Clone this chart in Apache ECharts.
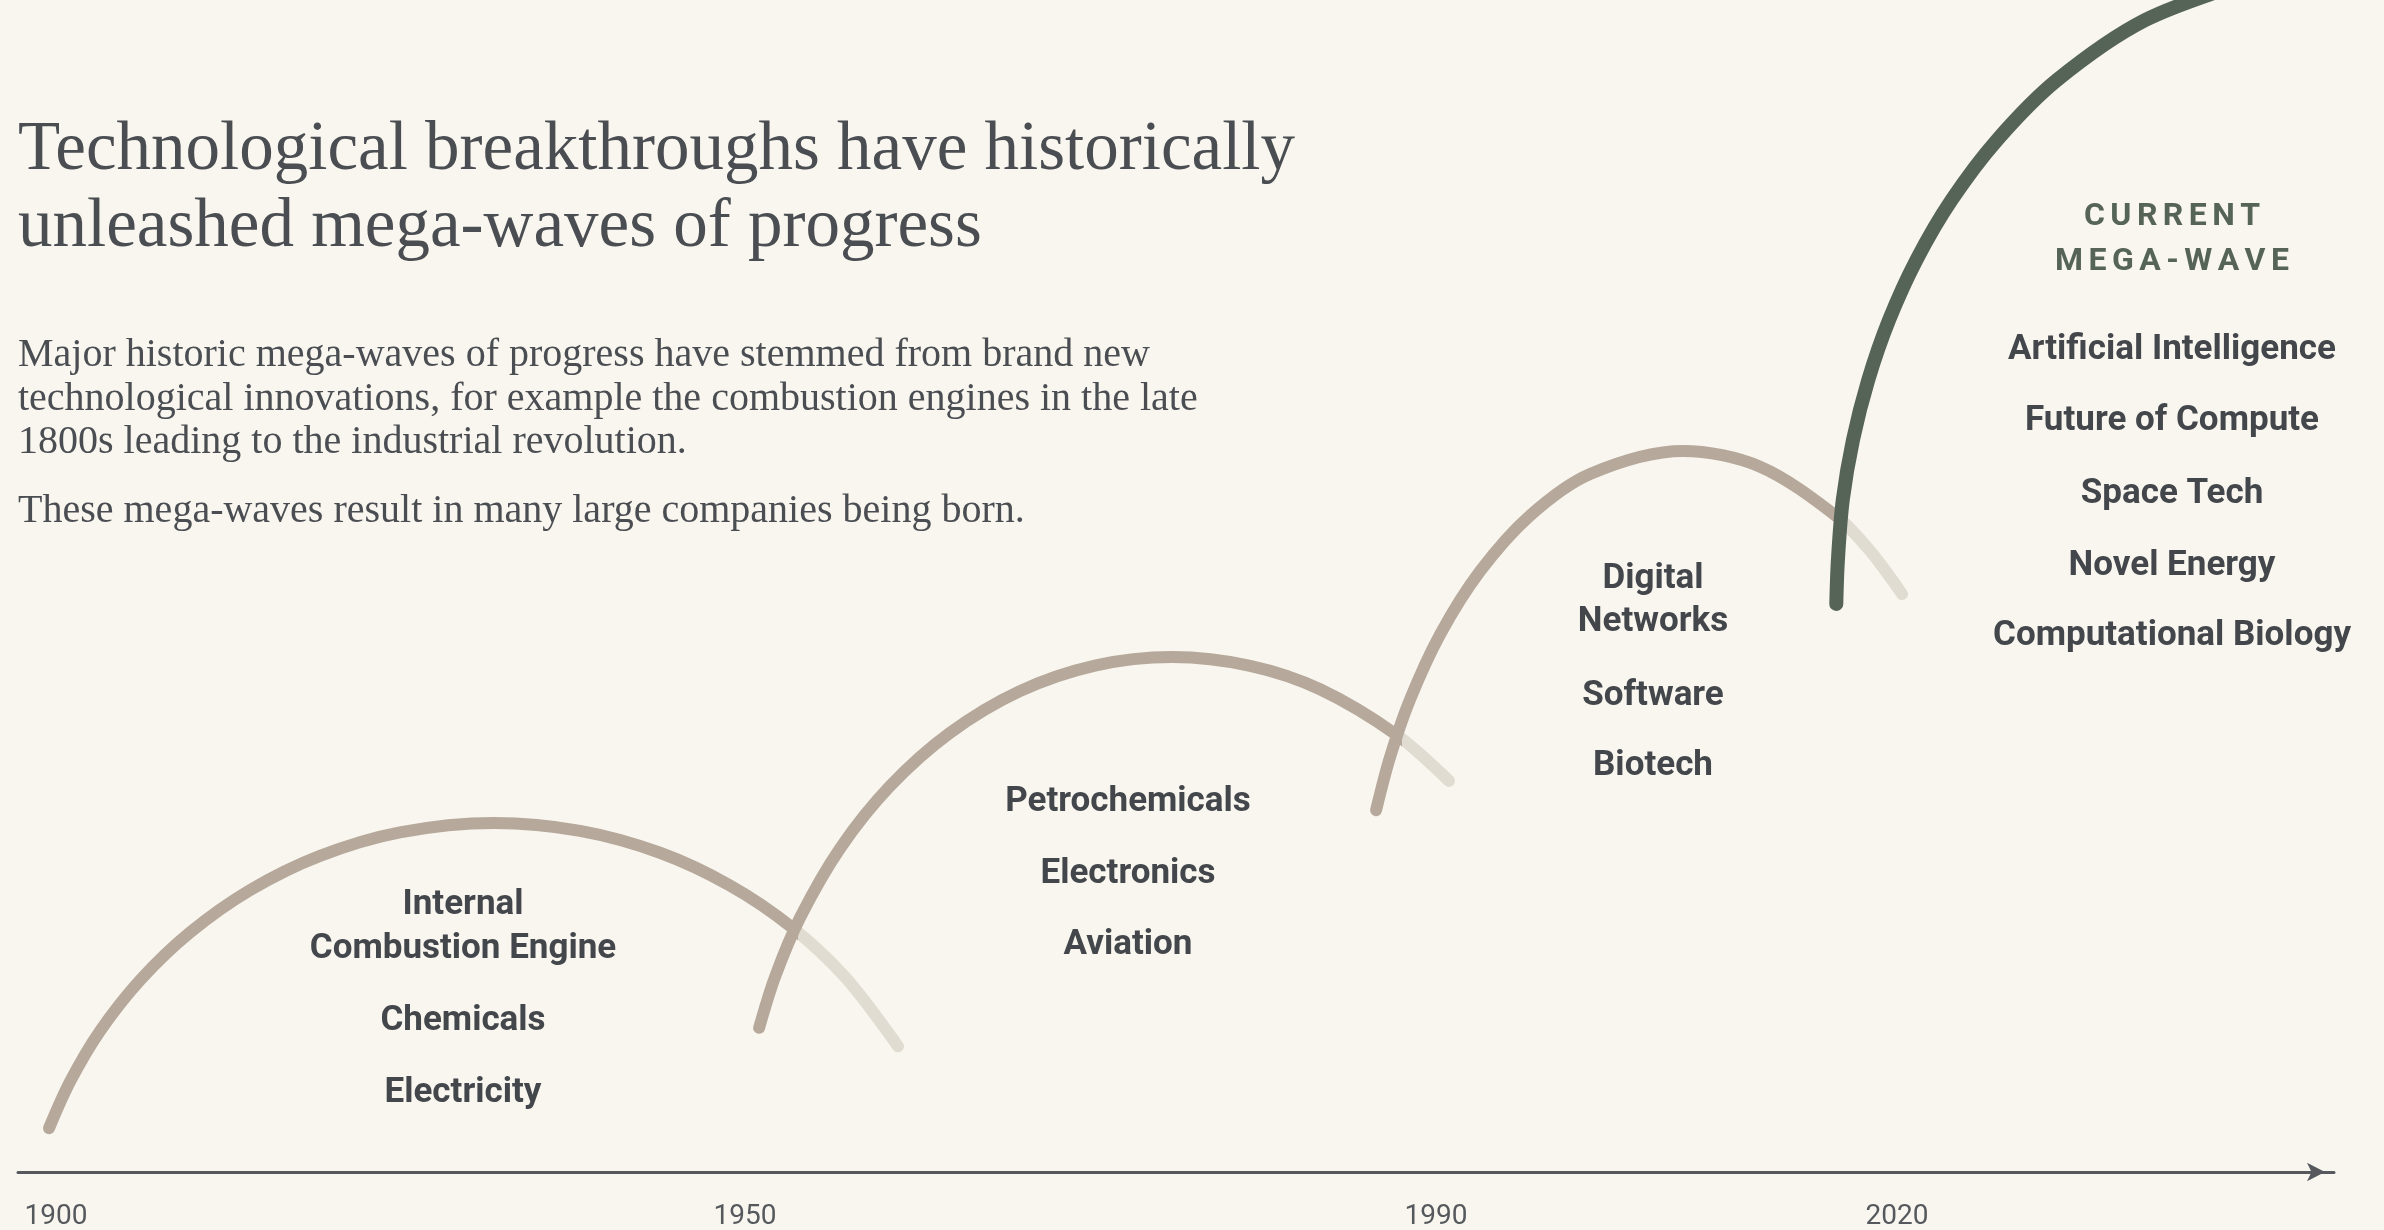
<!DOCTYPE html>
<html>
<head>
<meta charset="utf-8">
<script src="https://cdn.jsdelivr.net/npm/echarts@6/dist/echarts.min.js"></script>
<style>
  html, body { margin: 0; padding: 0; background: #F8F6EE; }
  #chart { width: 2384px; height: 1230px; }
</style>
</head>
<body>
<div id="chart"></div>
<script>
// ---------- DATA ----------
// x: position along the timeline (0-100), y: progress height (0-100)
const tickYears = ['1900', '1950', '1990', '2020'];
const tickPositions = [1.64, 31.39, 61.23, 81.13];

const wave1 = [[1.34, 3.74], [2.25, 7.72], [3.54, 12.02], [5.27, 16.36], [7.43, 20.44], [10.02, 24.05],
  [13.04, 26.97], [16.49, 28.98], [20.55, 29.78], [24.27, 29.11], [27.72, 27.24], [30.74, 24.45],
  [33.38, 20.93], [35.71, 16.64], [38.00, 10.72]];
const wave2 = [[32.00, 12.30], [32.69, 16.66], [33.77, 21.71], [35.49, 27.60], [37.65, 32.92],
  [40.24, 37.47], [43.26, 41.03], [46.50, 43.21], [49.83, 43.94], [53.20, 43.19], [56.22, 41.19],
  [59.54, 37.28], [61.79, 33.37]];
const wave3 = [[58.64, 30.87], [59.24, 35.38], [60.10, 40.29], [61.40, 45.85], [63.13, 51.26],
  [65.28, 56.00], [67.88, 59.56], [71.89, 61.52], [75.22, 60.18], [78.54, 55.92], [79.97, 52.99],
  [81.35, 49.31]];
const currentWave = [[78.51, 48.46], [78.58, 52.22], [78.79, 57.34], [79.23, 62.46], [79.89, 67.58],
  [80.79, 72.70], [81.97, 77.82], [83.49, 82.94], [85.45, 88.05], [88.04, 93.17], [91.85, 98.29],
  [96.51, 101.71]];
// where each wave is overtaken by the next one (x position)
const overtakenAt = [33.5, 59.54, 78.6];

const wave1Items = ['Internal\nCombustion Engine', 'Chemicals', 'Electricity'];
const wave2Items = ['Petrochemicals', 'Electronics', 'Aviation'];
const wave3Items = ['Digital\nNetworks', 'Software', 'Biotech'];
const currentItems = ['Artificial Intelligence', 'Future of Compute', 'Space Tech', 'Novel Energy', 'Computational Biology'];
const currentHeading = 'CURRENT\nMEGA-WAVE';

const titleText = 'Technological breakthroughs have historically\nunleashed mega-waves of progress';
const introText = 'Major historic mega-waves of progress have stemmed from brand new\ntechnological innovations, for example the combustion engines in the late\n1800s leading to the industrial revolution.';
const introText2 = 'These mega-waves result in many large companies being born.';

// ---------- STYLE / LAYOUT ----------
const C = {
  bg: '#F8F6EE', tan: '#B6A89B', light: '#E1DCD1', green: '#566458',
  text: '#43474C', body: '#4A4D52', axis: '#55595D'
};
const labelFont = { fontFamily: 'Roboto', fontWeight: 'bold', fontSize: 35, fill: C.text };

function spaced(s) { return s.split('\n').map(l => l.split('').join('\u2006')).join('\n'); }

function itemTexts(items, cx, ys, lh) {
  return items.map((t, i) => ({
    type: 'text', x: cx, y: ys[i], silent: true,
    style: Object.assign({ text: t, align: 'center', verticalAlign: 'middle', lineHeight: lh }, labelFont)
  }));
}

const graphics = [
  { type: 'text', x: 18, y: 189, silent: true,
    style: { text: titleText, fontFamily: 'Liberation Serif', fontSize: 69, lineHeight: 77, fill: C.body, verticalAlign: 'middle' } },
  { type: 'text', x: 18, y: 399, silent: true,
    style: { text: introText, fontFamily: 'Liberation Serif', fontSize: 40, lineHeight: 43.5, fill: C.body, verticalAlign: 'middle' } },
  { type: 'text', x: 18, y: 511.5, silent: true,
    style: { text: introText2, fontFamily: 'Liberation Serif', fontSize: 40, lineHeight: 43.5, fill: C.body, verticalAlign: 'middle' } },
  { type: 'text', x: 2172, y: 239, silent: true,
    style: { text: spaced(currentHeading), fontFamily: 'Roboto', fontWeight: 'bold', fontSize: 32, lineHeight: 45, fill: C.green, align: 'center', verticalAlign: 'middle' } }
].concat(
  itemTexts(wave1Items, 463, [927, 1021, 1093], 44),
  itemTexts(wave2Items, 1128, [802, 874, 945], 44),
  itemTexts(wave3Items, 1653, [601, 696, 766], 43),
  itemTexts(currentItems, 2172, [350, 421, 494, 566, 636], 44)
);

// colour of a wave: main colour until it is overtaken, faded afterwards
function fadedColor(data, cutX) {
  const x0 = data[0][0], x1 = data[data.length - 1][0];
  const f = Math.min(1, Math.max(0, (cutX - x0) / (x1 - x0)));
  return new echarts.graphic.LinearGradient(0, 0, 1, 0, [
    { offset: 0, color: C.tan }, { offset: f, color: C.tan },
    { offset: f, color: C.light }, { offset: 1, color: C.light }
  ]);
}

function waveSeries(data, color, width) {
  return {
    type: 'line', data: data, smooth: 0.32, showSymbol: false, silent: true, clip: true,
    lineStyle: { width: width, color: color, cap: 'round', join: 'round' }
  };
}

const chart = echarts.init(document.getElementById('chart'), null, { renderer: 'canvas' });
chart.setOption({
  backgroundColor: C.bg,
  animation: false,
  grid: { left: 18, right: 50, top: 0, bottom: 58, containLabel: false, outerBoundsMode: 'none' },
  xAxis: {
    type: 'value', min: 0, max: 100,
    axisLine: { show: true, symbol: ['none', 'arrow'], symbolSize: [14, 18], symbolOffset: [0, -9],
      lineStyle: { color: C.axis, width: 3 } },
    axisTick: { show: false },
    splitLine: { show: false },
    axisLabel: {
      customValues: tickPositions,
      formatter: function (v) {
        let best = 0;
        tickPositions.forEach((p, i) => { if (Math.abs(p - v) < Math.abs(tickPositions[best] - v)) best = i; });
        return tickYears[best];
      },
      color: C.axis, fontFamily: 'Roboto', fontSize: 28, margin: 31
    }
  },
  yAxis: { type: 'value', min: 0, max: 100, show: false },
  series: [
    waveSeries(wave1, fadedColor(wave1, overtakenAt[0]), 12),
    waveSeries(wave2, fadedColor(wave2, overtakenAt[1]), 12),
    waveSeries(wave3, fadedColor(wave3, overtakenAt[2]), 12),
    waveSeries(currentWave, C.green, 14)
  ],
  graphic: graphics
});
</script>
</body>
</html>
